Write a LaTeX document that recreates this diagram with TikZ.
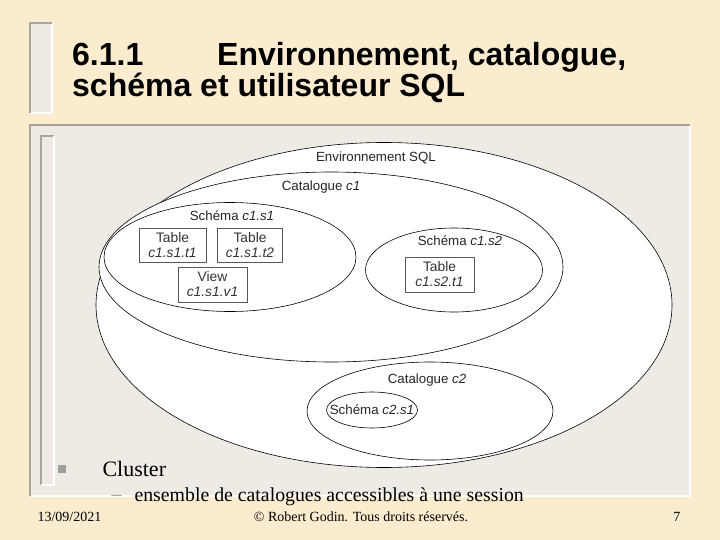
\documentclass[tikz,border=0pt]{standalone}
\usepackage{fontspec}
\setmainfont{Liberation Serif}
\setsansfont{Liberation Sans}
\usetikzlibrary{shapes.geometric, positioning}

\definecolor{parchment}{HTML}{FBECCF}
\definecolor{panelgrey}{HTML}{EEEBE5}
\definecolor{edgegrey}{HTML}{A9A59D}

\begin{document}
\begin{tikzpicture}[x=1pt, y=-1pt,
    set/.style={ellipse, draw=black, line width=0.6pt, fill=white, inner sep=0pt},
    lbl/.style={font=\sffamily\fontsize{13.3}{15}\selectfont, text=black!85},
    objbox/.style={draw=black!65, fill=white, line width=0.7pt, inner sep=1pt,
        align=center, font=\sffamily\fontsize{13.8}{15}\selectfont, text=black!80},
    heading/.style={anchor=base west, inner sep=0pt, font=\sffamily\bfseries\fontsize{32}{34}\selectfont},
    serif/.style={font=\fontsize{#1}{#1}\selectfont}]

    % page
    \fill[parchment] (0,0) rectangle (720,540);
    \useasboundingbox (0,0) rectangle (720,540);

    % title bar
    \fill[panelgrey] (30,23) rectangle (52,113);
    \draw[white, line width=2pt] (52,23) -- (52,113) -- (30,113);
    \draw[edgegrey, line width=2.5pt] (30,113) -- (30,23) -- (52,23);

    \node[heading] (num) at (72,66) {6.1.1};
    \node[heading] (title1) at (217,66) {Environnement, catalogue,};
    \node[heading] (title2) at (72,97) {schéma et utilisateur SQL};

    % main panel
    \fill[panelgrey] (30,125) rectangle (690,496);
    \draw[white, line width=2pt] (690,125) -- (690,496) -- (30,496);
    \draw[edgegrey, line width=2.5pt] (30,496) -- (30,125) -- (690,125);
    \draw[edgegrey, line width=1.5pt] (41,485) -- (41,136) -- (54,136);
    \draw[white, line width=1.5pt] (54,136) -- (54,485) -- (41,485);

    % sets
    \node[set, minimum width=576, minimum height=325] (env) at (384,305) {};
    \node[set, minimum width=464, minimum height=190] (cat1) at (331,267) {};
    \node[set, minimum width=252, minimum height=109] (sch11) at (230,257) {};
    \node[set, minimum width=177, minimum height=84] (sch12) at (454,270) {};
    \node[set, minimum width=246, minimum height=98] (cat2) at (430,411) {};
    \node[set, minimum width=91, minimum height=36] (sch21) at (372,410) {};

    \node[lbl] (envname) at (376,158) {Environnement SQL};
    \node[lbl] (cat1name) at (321,187) {Catalogue \textit{c1}};
    \node[lbl] (sch11name) at (232,216) {Schéma \textit{c1.s1}};
    \node[lbl] (sch12name) at (460,241) {Schéma \textit{c1.s2}};
    \node[lbl] (cat2name) at (427,380) {Catalogue \textit{c2}};
    \node[lbl] (sch21name) at (372,410) {Schéma \textit{c2.s1}};

    % tables and view
    \node[objbox, minimum width=67, minimum height=34] (t1) at (172.5,245) {Table\\\textit{c1.s1.t1}};
    \node[objbox, minimum width=65, minimum height=34] (t2) at (250,245) {Table\\\textit{c1.s1.t2}};
    \node[objbox, minimum width=69, minimum height=35] (v1) at (212.5,284.5) {View\\\textit{c1.s1.v1}};
    \node[objbox, minimum width=69, minimum height=35] (t3) at (439.5,274.5) {Table\\\textit{c1.s2.t1}};

    % bullets
    \fill[black!38] (58,465) rectangle (66,473);
    \node[anchor=base west, serif=22] (cluster) at (99,476) {Cluster};
    \node[anchor=base west, serif=20, text=black!40] (dash) at (108,500) {--};
    \node[anchor=base west, serif=19.8] (defn) at (131,501) {ensemble de catalogues accessibles à une session};

    % footer
    \node[anchor=base west, serif=14] (date) at (34,521) {13/09/2021};
    \node[anchor=base, serif=14] (copy) at (361,521) {© Robert Godin. Tous droits réservés.};
    \node[anchor=base east, serif=14] (page) at (684,521) {7};
\end{tikzpicture}
\end{document}
